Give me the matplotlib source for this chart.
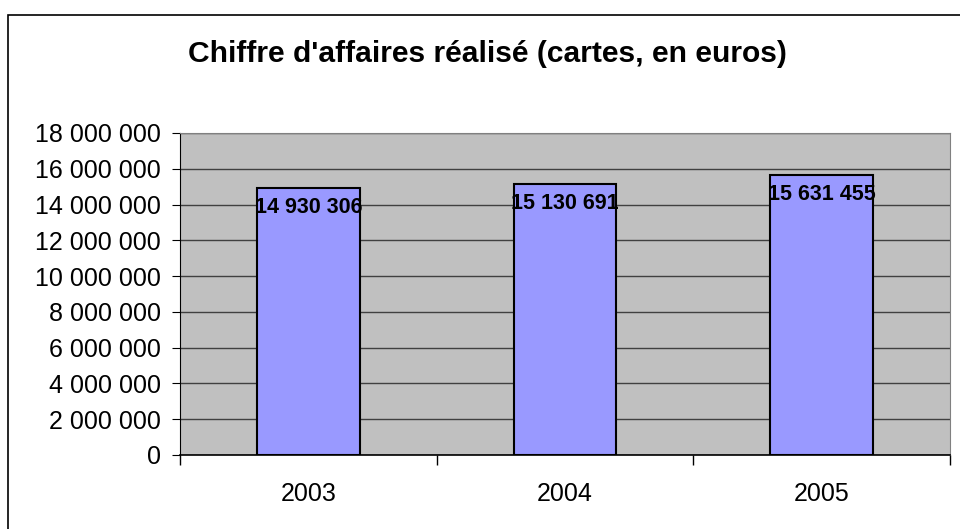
import matplotlib
matplotlib.use("Agg")
import matplotlib.pyplot as plt
from matplotlib.patches import Rectangle
from matplotlib.ticker import FuncFormatter, MultipleLocator, FixedLocator

# ---- data ---------------------------------------------------------------
years = ["2003", "2004", "2005"]
revenue = [14930306, 15130691, 15631455]
title = "Chiffre d'affaires réalisé (cartes, en euros)"

plt.rcParams["font.family"] = ["Liberation Sans", "DejaVu Sans"]


def fr_thousands(v, pos=None):
    # French style: space as thousands separator
    return f"{int(v):,}".replace(",", " ")


fig = plt.figure(figsize=(9.6, 5.29), dpi=100)
ax = fig.add_axes([180 / 960, 74 / 529, 770 / 960, 322 / 529])

# outer chart border (only left/top visible in the reference)
fig.patches.append(Rectangle((8 / 960, -0.1), 1.2, 1 - 15 / 529 + 0.1,
                             transform=fig.transFigure, fill=False,
                             edgecolor="black", linewidth=1.2))

x = range(len(years))
ax.set_facecolor("#C0C0C0")
ax.bar(x, revenue, width=0.4, color="#9999FF", edgecolor="black",
       linewidth=1.5, zorder=3)

for i, v in enumerate(revenue):
    ax.annotate(fr_thousands(v), (i, v), xytext=(0, -6.5),
                textcoords="offset points", ha="center", va="top",
                fontsize=15.5, fontweight="bold", zorder=4)

ax.set_xlim(-0.5, len(years) - 0.5)
ax.set_ylim(0, 18000000)
ax.yaxis.set_major_locator(MultipleLocator(2000000))
ax.yaxis.set_major_formatter(FuncFormatter(fr_thousands))
ax.grid(axis="y", color="#404040", linewidth=1.0, zorder=1)

ax.set_xticks(list(x))
ax.set_xticklabels(years)
ax.xaxis.set_minor_locator(FixedLocator([-0.5, 0.5, 1.5, 2.5]))
ax.tick_params(axis="x", which="major", length=0, pad=19.5, labelsize=18)
ax.tick_params(axis="x", which="minor", length=7, color="black", width=1)
ax.tick_params(axis="y", length=6, pad=8, labelsize=18, color="black")

for side in ["top", "right"]:
    ax.spines[side].set_color("#808080")
for side in ["left", "bottom"]:
    ax.spines[side].set_color("black")
ax.spines["bottom"].set_linewidth(1.2)

fig.text(487 / 960, 1 - 54 / 529, title, ha="center", va="center",
         fontsize=21.6, fontweight="bold")

fig.savefig("out.png", dpi=100)
